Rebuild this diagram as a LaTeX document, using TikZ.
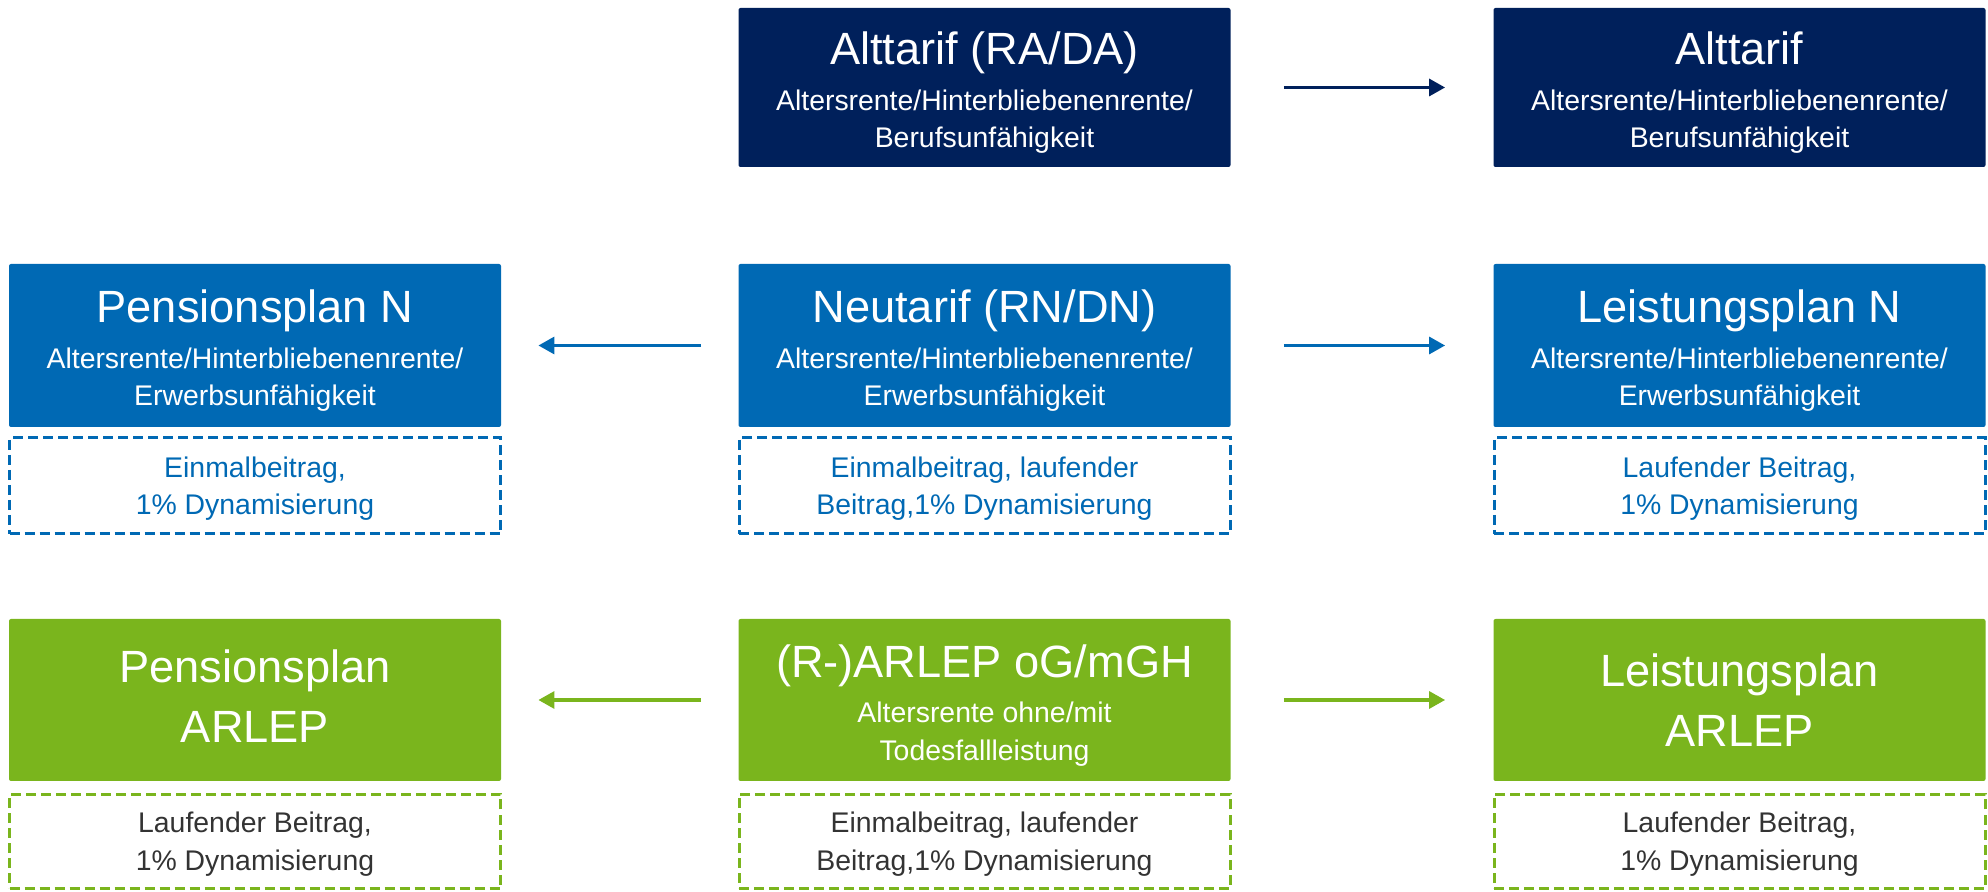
\documentclass[tikz,border=0pt]{standalone}
\usepackage{fontspec}
\setmainfont{Liberation Sans}
\usetikzlibrary{arrows.meta}
\definecolor{navy}{HTML}{00205B}
\definecolor{midblue}{HTML}{0069B4}
\definecolor{lgreen}{HTML}{7AB51D}
\definecolor{dgray}{HTML}{333333}
\newcommand{\ctr}{\centering\spaceskip=0pt\xspaceskip=0pt\relax}
\newcommand{\boxtitle}[1]{\ctr\fontsize{22.6}{30}\selectfont\rule{0pt}{21.8pt}#1\par\vspace{4pt}}
\newcommand{\boxsub}[2]{\fontsize{14.2}{18.75}\selectfont #1\\#2\par}
\newcommand{\twoline}[2]{\ctr\fontsize{22.6}{30}\selectfont #1\\#2\par}
\newcommand{\dtext}[2]{\ctr\rule{0pt}{12.8pt}#1\\#2\par}
\tikzset{
  fbox/.style={rectangle, rounded corners=1pt, fill=#1, text=white, minimum width=246pt,
    text width=240pt, inner sep=0pt},
  dbox/.style={rectangle, draw=#1, dashed, dash pattern=on 5pt off 2.5pt, line width=1.5pt,
    minimum width=245.5pt, minimum height=48pt, text width=240pt, inner sep=0pt,
    font=\fontsize{14.2}{18.75}\selectfont},
  conn/.style={draw=#1, line width=1.6pt, -{Triangle[length=8pt,width=8.5pt]}},
}
\begin{document}
\begin{tikzpicture}[x=0.5pt,y=-0.5pt]
\useasboundingbox (0,0) rectangle (1988,892);
% row 1
\node[fbox=navy, minimum height=79.5pt] (alt) at (984.5,87.5)
  {\boxtitle{Alttarif (RA/DA)}\boxsub{Altersrente/Hinterbliebenenrente/}{Berufsunfähigkeit}};
\node[fbox=navy, minimum height=79.5pt] (altr) at (1739.5,87.5)
  {\boxtitle{Alttarif}\boxsub{Altersrente/Hinterbliebenenrente/}{Berufsunfähigkeit}};
% row 2
\node[fbox=midblue, minimum height=81.5pt] (pn) at (255,345.5)
  {\boxtitle{Pensionsplan N}\boxsub{Altersrente/Hinterbliebenenrente/}{Erwerbsunfähigkeit}};
\node[fbox=midblue, minimum height=81.5pt] (neu) at (984.5,345.5)
  {\boxtitle{Neutarif (RN/DN)}\boxsub{Altersrente/Hinterbliebenenrente/}{Erwerbsunfähigkeit}};
\node[fbox=midblue, minimum height=81.5pt] (ln) at (1739.5,345.5)
  {\boxtitle{Leistungsplan N}\boxsub{Altersrente/Hinterbliebenenrente/}{Erwerbsunfähigkeit}};
\node[dbox=midblue, text=midblue] (pnd) at (255,486) {\dtext{Einmalbeitrag,}{1\% Dynamisierung}};
\node[dbox=midblue, text=midblue] (neud) at (984.5,486) {\dtext{Einmalbeitrag, laufender}{Beitrag,1\% Dynamisierung}};
\node[dbox=midblue, text=midblue] (lnd) at (1739.5,486) {\dtext{Laufender Beitrag,}{1\% Dynamisierung}};
% row 3
\node[fbox=lgreen, minimum height=81pt] (pa) at (255,700)
  {\twoline{Pensionsplan}{ARLEP}\vspace{4pt}};
\node[fbox=lgreen, minimum height=81pt] (ar) at (984.5,700)
  {\boxtitle{(R-)ARLEP oG/mGH}\boxsub{Altersrente ohne/mit}{Todesfallleistung}};
\node[fbox=lgreen, minimum height=81pt] (la) at (1739.5,700)
  {\twoline{Leistungsplan}{ARLEP}};
\node[dbox=lgreen, text=dgray, minimum height=47pt] (pad) at (255,841.5) {\dtext{Laufender Beitrag,}{1\% Dynamisierung}};
\node[dbox=lgreen, text=dgray, minimum height=47pt] (ard) at (984.5,841.5) {\dtext{Einmalbeitrag, laufender}{Beitrag,1\% Dynamisierung}};
\node[dbox=lgreen, text=dgray, minimum height=47pt] (lad) at (1739.5,841.5) {\dtext{Laufender Beitrag,}{1\% Dynamisierung}};
% connectors
\draw[conn=navy, shorten <=26.5pt, shorten >=24pt] (alt.east) -- (altr.west);
\draw[conn=midblue, shorten <=18.5pt, shorten >=18.5pt] (neu.west) -- (pn.east);
\draw[conn=midblue, shorten <=26.5pt, shorten >=24pt] (neu.east) -- (ln.west);
\draw[conn=lgreen, shorten <=18.5pt, shorten >=18.5pt] (ar.west) -- (pa.east);
\draw[conn=lgreen, shorten <=26.5pt, shorten >=24pt] (ar.east) -- (la.west);
\end{tikzpicture}
\end{document}
